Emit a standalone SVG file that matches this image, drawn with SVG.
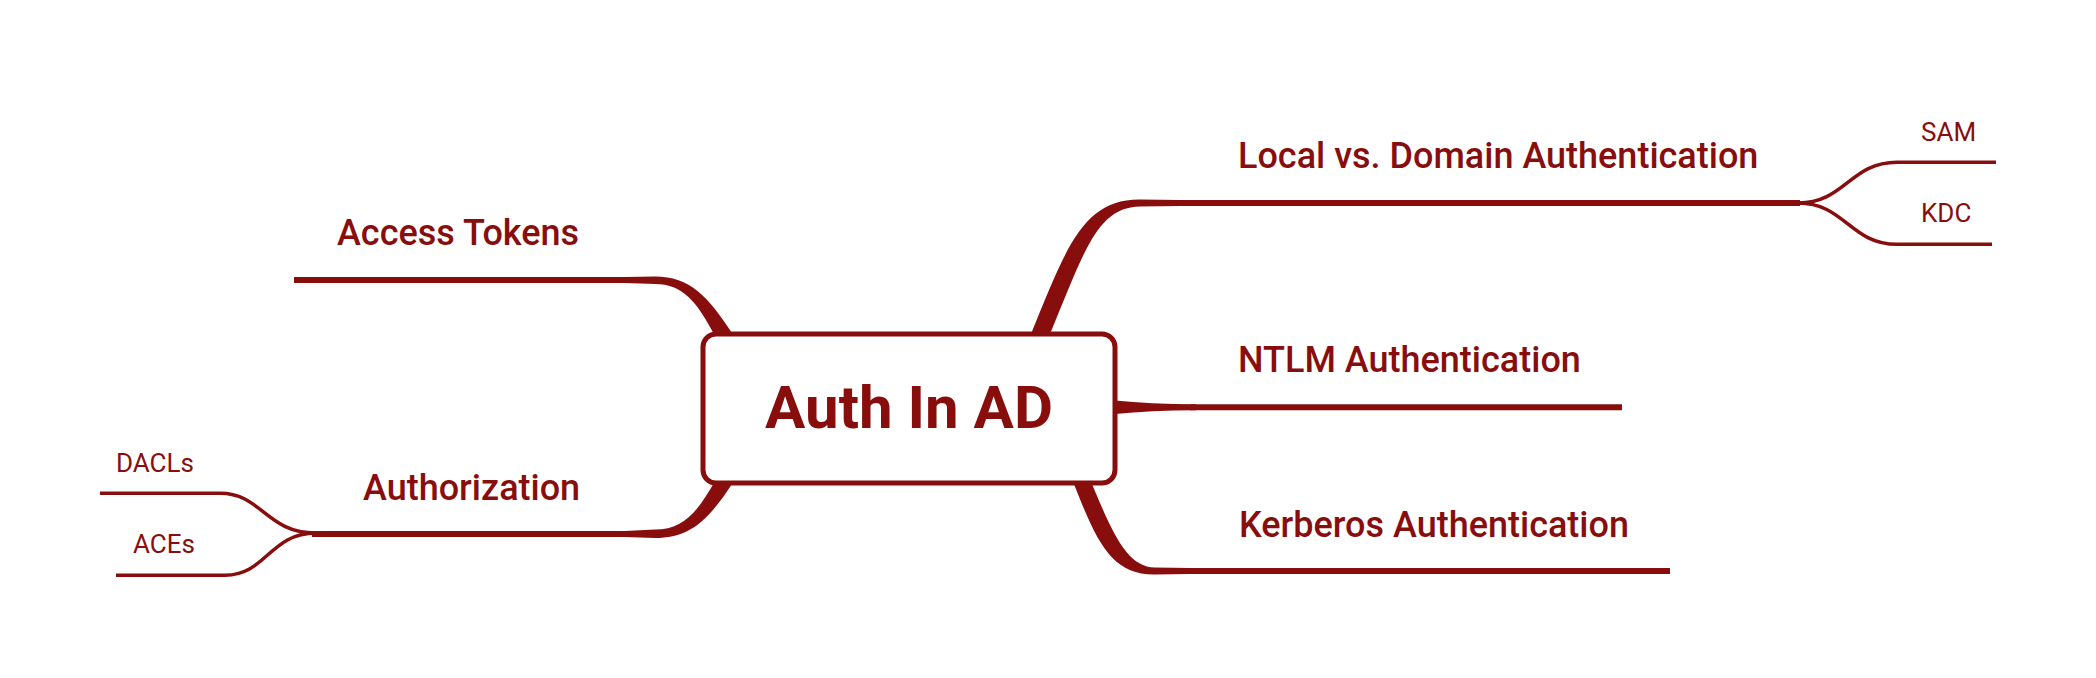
<svg xmlns="http://www.w3.org/2000/svg" width="2096" height="678" viewBox="0 0 2096 678">
<style>
.main{fill:none;stroke:#880e0e;stroke-width:6}
.sub{fill:none;stroke:#880e0e;stroke-width:3.5}
.taper{fill:#880e0e;stroke:none}
.t1{font-family:Roboto,"Liberation Sans",sans-serif;font-weight:500;font-size:36px;fill:#880e0e}
.t2{font-family:Roboto,"Liberation Sans",sans-serif;font-weight:400;font-size:26px;fill:#880e0e}
.t0{font-family:Roboto,"Liberation Sans",sans-serif;font-weight:700;font-size:60px;fill:#880e0e}
</style>
<rect width="2096" height="678" fill="#ffffff"/>
<g id="connectors">
<path class="taper" d="M 734 336 C 708 296, 690 276.5, 655 276.5 L 625 277 L 625 283 L 655 284 C 683 284, 697 302, 715 336 Z"/>
<path class="main" d="M 294 280 H 630"/>
<path class="taper" d="M 734 481 C 708 521, 690 538, 655 538 L 625 537 L 625 531 L 655 529.5 C 683 529.5, 697 513, 715 481 Z"/>
<path class="main" d="M 312 534 H 630"/>
<path class="taper" d="M 1031 334 C 1066 248, 1083 199, 1140 199.5 L 1180 200 L 1180 206 L 1140 206.5 C 1097 207, 1084 252, 1050 334 Z"/>
<path class="main" d="M 1170 203 H 1800"/>
<path class="taper" d="M 1115 400.5 Q 1150 404 1196 404.3 L 1196 410.3 Q 1150 410.5 1115 414 Z"/>
<path class="main" d="M 1190 407.3 H 1622"/>
<path class="taper" d="M 1074 484 C 1097 543, 1112 575, 1155 574.5 L 1190 574 L 1190 568 L 1155 567.5 C 1128 567, 1114 537, 1092 484 Z"/>
<path class="main" d="M 1180 571 H 1670"/>
<path class="sub" d="M 1798 203 C 1845 203, 1850 162.3, 1897 162.3 H 1996"/>
<path class="sub" d="M 1798 203 C 1845 203, 1850 244.3, 1897 244.3 H 1992"/>
<path class="sub" d="M 100 493.3 H 220 C 262 493.3, 266 533, 316 533"/>
<path class="sub" d="M 116 575.3 H 225 C 266 575.3, 270 533, 316 533"/>
</g>
<g id="root">
<rect x="703" y="334" width="412" height="149" rx="13" ry="13" fill="#ffffff" stroke="#880e0e" stroke-width="5"/>
<text class="t0" x="909" y="428" text-anchor="middle">Auth In AD</text>
</g>
<g id="access-tokens"><text class="t1" x="337" y="245">Access Tokens</text></g>
<g id="authorization"><text class="t1" x="363" y="500">Authorization</text></g>
<g id="dacls"><text class="t2" x="116" y="472">DACLs</text></g>
<g id="aces"><text class="t2" x="133" y="553">ACEs</text></g>
<g id="local-domain"><text class="t1" x="1238" y="168">Local vs. Domain Authentication</text></g>
<g id="sam"><text class="t2" x="1921" y="141">SAM</text></g>
<g id="kdc"><text class="t2" x="1921" y="222">KDC</text></g>
<g id="ntlm"><text class="t1" x="1238" y="372">NTLM Authentication</text></g>
<g id="kerberos"><text class="t1" x="1239" y="537">Kerberos Authentication</text></g>
</svg>
